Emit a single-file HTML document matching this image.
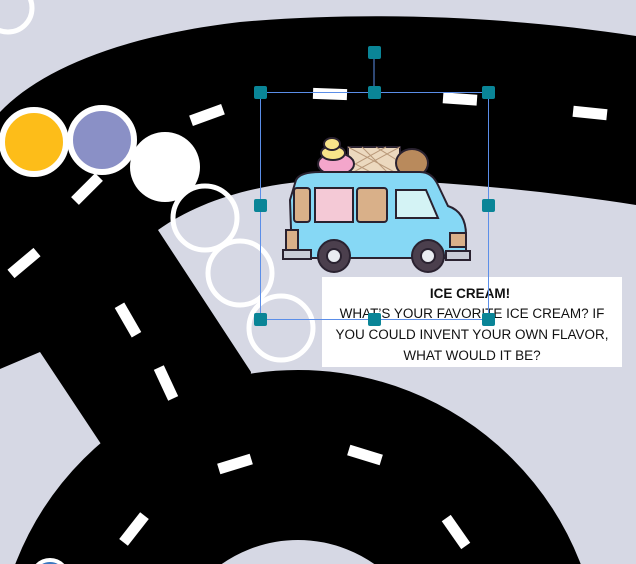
<!DOCTYPE html>
<html><head><meta charset="utf-8"><style>
html,body{margin:0;padding:0;width:636px;height:564px;overflow:hidden;background:#d6d8e4}
svg{display:block}
</style></head><body>
<svg width="636" height="564" viewBox="0 0 636 564" xmlns="http://www.w3.org/2000/svg">
<rect width="636" height="564" fill="#d6d8e4"/>
<!-- roads -->
<path d="M0 112 C40 70 120 36 240 22 C380 10 520 18 636 36 L636 205 C540 190 420 178 330 180 C260 182 200 200 158 230 L251 372 L240 470 L105 450 L40 352 L0 369 Z" fill="#000"/>
<circle cx="298" cy="673" r="218" fill="none" stroke="#000" stroke-width="170"/>
<!-- dashes -->
<g stroke="#fff" stroke-width="11" stroke-linecap="butt">
<line x1="-17" y1="0" x2="17" y2="0" transform="translate(24,263) rotate(-40)"/>
<line x1="-17" y1="0" x2="17" y2="0" transform="translate(87,189) rotate(-45)"/>
<line x1="-17" y1="0" x2="17" y2="0" transform="translate(207,115) rotate(-20)"/>
<line x1="-17" y1="0" x2="17" y2="0" transform="translate(330,94) rotate(2)"/>
<line x1="-17" y1="0" x2="17" y2="0" transform="translate(460,99) rotate(4)"/>
<line x1="-17" y1="0" x2="17" y2="0" transform="translate(590,113) rotate(6)"/>
<line x1="-17" y1="0" x2="17" y2="0" transform="translate(128,320) rotate(60)"/>
<line x1="-17" y1="0" x2="17" y2="0" transform="translate(166,383) rotate(65)"/>
<line x1="-17" y1="0" x2="17" y2="0" transform="translate(235,464) rotate(-17)"/>
<line x1="-17" y1="0" x2="17" y2="0" transform="translate(365,455) rotate(17)"/>
<line x1="-17" y1="0" x2="17" y2="0" transform="translate(134,529) rotate(-52)"/>
<line x1="-17" y1="0" x2="17" y2="0" transform="translate(456,532) rotate(55)"/>
</g>
<!-- circles -->
<circle cx="8" cy="8" r="24" fill="none" stroke="#fff" stroke-width="5"/>
<circle cx="34" cy="142" r="32" fill="#fdbd19" stroke="#fff" stroke-width="6"/>
<circle cx="102" cy="140" r="32" fill="#8a90c6" stroke="#fff" stroke-width="6"/>
<circle cx="165" cy="167" r="35" fill="#fff"/>
<g fill="none" stroke="#fff" stroke-width="5">
<circle cx="205" cy="218" r="32"/>
<circle cx="240" cy="273" r="32"/>
<circle cx="281" cy="328" r="32"/>
</g>
<circle cx="50" cy="578" r="18" fill="#3a78c0" stroke="#fff" stroke-width="4"/>
<!-- truck -->
<g stroke="#2a2230" stroke-width="2">
<rect x="348" y="147" width="52" height="28" fill="#ecd9bf"/>
<path d="M348 147 L400 175 M362 147 L390 175 M376 147 L400 162 M348 160 L376 175 M400 147 L348 175 M386 147 L348 168" stroke="#b9997a" stroke-width="1"/>
<ellipse cx="336" cy="164" rx="18" ry="11" fill="#f4a6cb"/>
<ellipse cx="333" cy="153" rx="12" ry="7" fill="#f8e48a"/>
<ellipse cx="332" cy="144" rx="8" ry="6" fill="#f8e48a"/>
<ellipse cx="412" cy="163" rx="16" ry="14" fill="#b98a5c"/>
<path d="M296 180 Q300 172 320 172 L420 172 Q432 172 438 185 L448 206 Q466 212 466 235 L466 258 L292 258 L290 200 Z" fill="#86d8f5"/>
<rect x="294" y="188" width="16" height="34" rx="3" fill="#d9b089"/>
<rect x="315" y="188" width="38" height="34" fill="#f4c9d6"/>
<rect x="357" y="188" width="30" height="34" rx="3" fill="#d9b089"/>
<path d="M396 190 L426 190 L438 218 L396 218 Z" fill="#d4f3f5"/>
<rect x="286" y="230" width="12" height="20" fill="#d9b089"/>
<rect x="450" y="233" width="16" height="14" fill="#d9b089"/>
<rect x="283" y="250" width="28" height="9" fill="#c9ccd6"/>
<rect x="446" y="251" width="24" height="9" fill="#c9ccd6"/>
<circle cx="334" cy="256" r="16" fill="#4b3f4d"/>
<circle cx="334" cy="256" r="7" fill="#e9ecf1"/>
<circle cx="428" cy="256" r="16" fill="#4b3f4d"/>
<circle cx="428" cy="256" r="7" fill="#e9ecf1"/>
</g>
<!-- text box -->
<rect x="322" y="277" width="300" height="90" fill="#fff"/>
<g font-family="'Liberation Sans',sans-serif" font-size="13.5" fill="#111" text-anchor="middle">
<text x="470" y="298" font-weight="bold">ICE CREAM!</text>
<text x="472" y="318">WHAT’S YOUR FAVORITE ICE CREAM? IF</text>
<text x="472" y="339">YOU COULD INVENT YOUR OWN FLAVOR,</text>
<text x="472" y="360">WHAT WOULD IT BE?</text>
</g>
<!-- selection -->
<g stroke="#5b8ee8" stroke-width="1" fill="none">
<rect x="260.5" y="92.5" width="228" height="227"/>
<line x1="374" y1="52" x2="374" y2="92"/>
</g>
<g fill="#0a8597">
<rect x="254" y="86" width="13" height="13" rx="2"/>
<rect x="368" y="86" width="13" height="13" rx="2"/>
<rect x="482" y="86" width="13" height="13" rx="2"/>
<rect x="368" y="46" width="13" height="13" rx="2"/>
<rect x="254" y="199" width="13" height="13" rx="2"/>
<rect x="482" y="199" width="13" height="13" rx="2"/>
<rect x="254" y="313" width="13" height="13" rx="2"/>
<rect x="368" y="313" width="13" height="13" rx="2"/>
<rect x="482" y="313" width="13" height="13" rx="2"/>
</g>
</svg>
</body></html>
